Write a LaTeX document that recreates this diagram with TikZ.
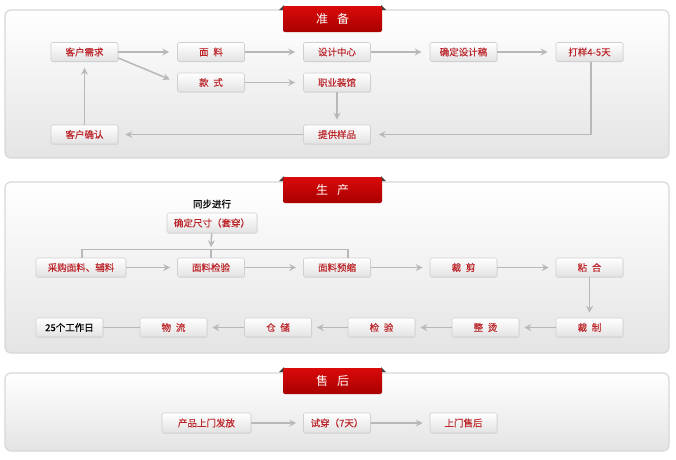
\documentclass[tikz,border=0pt]{standalone}
\usepackage{fontspec}
\setmainfont{Noto Sans CJK SC}
\newfontfamily\boxfont[FakeBold=0.35]{Noto Sans CJK SC}
\usetikzlibrary{arrows.meta,shadows,calc}
\definecolor{nodetxt}{HTML}{BC262B}
\definecolor{linegray}{HTML}{B8B8B8}
\definecolor{panelborder}{HTML}{D8D8D8}
\definecolor{panelbottom}{HTML}{E4E4E4}
\definecolor{boxbottom}{HTML}{E2E2E2}
\definecolor{boxborder}{HTML}{D0D0D0}
\definecolor{tabtop}{HTML}{DA0A0A}
\definecolor{tabbottom}{HTML}{A80000}
\newcommand{\chgap}{\hspace{0.5em}}
\tikzset{
  panel/.style={rounded corners=6pt, draw=panelborder, line width=1.2pt, top color=white, bottom color=panelbottom},
  tab/.style={rounded corners=2pt, top color=tabtop, bottom color=tabbottom, text=white, font=\fontsize{12}{14}\selectfont, minimum width=99pt, minimum height=26pt, inner sep=0pt},
  fold/.style={fill=black!75, draw=none},
  box/.style={rounded corners=1.5pt, draw=boxborder, line width=0.6pt, top color=white, bottom color=boxbottom, text=nodetxt, font=\boxfont\fontsize{9.5}{11}\selectfont, minimum width=67pt, minimum height=19pt, inner sep=0pt, drop shadow={opacity=0.12, shadow xshift=0.6pt, shadow yshift=-0.8pt}},
  wide/.style={minimum width=90pt},
  plainbox/.style={box, text=black},
  arr/.style={draw=linegray, line width=1.5pt, -{Stealth[length=7pt,width=7pt,inset=2.5pt]}, shorten >=6pt},
  ln/.style={draw=linegray, line width=1.5pt},
  label/.style={font=\boxfont\fontsize{9.5}{11}\selectfont, text=black, inner sep=0pt}
}
\begin{document}
\begin{tikzpicture}[x=1pt,y=-1pt]
\useasboundingbox (0,0) rectangle (676,459);
\fill[white] (0,0) rectangle (676,459);

% panels
\path[panel] (5,10) rectangle (669,158);
\path[panel] (5,182) rectangle (669,353);
\path[panel] (5,373) rectangle (669,451);

% tabs
\foreach \ty in {6,177,368}{
  \fill[fold] (279,\ty+4) -- (284,\ty-1) -- (284,\ty+4) -- cycle;
  \fill[fold] (386,\ty+4) -- (381,\ty-1) -- (381,\ty+4) -- cycle;
}
\node[tab] (t1) at (332.5,19) {准\hspace{0.75em}备};
\node[tab] (t2) at (332.5,190) {生\hspace{0.75em}产};
\node[tab] (t3) at (332.5,381) {售\hspace{0.75em}后};

% panel 1
\node[box] (n1) at (84.5,52) {客户需求};
\node[box] (n2) at (211,52) {面\chgap 料};
\node[box] (n3) at (337,52) {设计中心};
\node[box] (n4) at (463.5,52) {确定设计稿};
\node[box] (n5) at (589.5,52) {打样4-5天};
\node[box] (n6) at (211,82.5) {款\chgap 式};
\node[box] (n7) at (337,82.5) {职业装馆};
\node[box] (n8) at (84.5,134.5) {客户确认};
\node[box] (n9) at (337,134.5) {提供样品};

\draw[arr, shorten >=8pt] (n1) -- (n2);
\draw[arr, shorten >=8pt] (n2) -- (n3);
\draw[arr, shorten >=8pt] (n3) -- (n4);
\draw[arr, shorten >=8pt] (n4) -- (n5);
\draw[arr, shorten >=8pt] ([yshift=-6pt]n1.east) -- (n6.west);
\draw[arr, shorten >=8pt] (n6) -- (n7);
\draw[arr, shorten >=5pt] (n7) -- (n9);
\draw[arr, shorten >=8pt] ([xshift=1.5pt]n5.south) |- (n9.east);
\draw[arr, shorten >=7pt] (n9) -- (n8);
\draw[arr, shorten >=6pt] (n8) -- (n1);

% panel 2
\node[label] (sync) at (212,204) {同步进行};
\node[box, wide, minimum height=20pt] (m0) at (212,223) {确定尺寸（套穿）};

\node[box, wide] (p1) at (81,267.5) {采购面料、辅料};
\node[box] (p2) at (211,267.5) {面料检验};
\node[box] (p3) at (337,267.5) {面料预缩};
\node[box] (p4) at (463.5,267.5) {裁\chgap 剪};
\node[box] (p5) at (589.5,267.5) {粘\chgap 合};

\node[plainbox] (q1) at (69.5,327.5) {25个工作日};
\node[box] (q2) at (173.5,327.5) {物\chgap 流};
\node[box] (q3) at (278,327.5) {仓\chgap 储};
\node[box] (q4) at (381.5,327.5) {检\chgap 验};
\node[box] (q5) at (485.5,327.5) {整\chgap 烫};
\node[box] (q6) at (589.5,327.5) {裁\chgap 制};

\coordinate (bar) at ($(p2.north)+(0,-8)$);
\draw[arr, shorten >=2.5pt] (m0) -- (bar);
\draw[ln] ([xshift=1pt]p1.north) -- ++(0,-8) -| ([xshift=11pt]p3.north);
\draw[ln] (p2.north) -- (bar);

\draw[arr, shorten >=7pt] (p1) -- (p2);
\draw[arr, shorten >=7pt] (p2) -- (p3);
\draw[arr, shorten >=7pt] (p3) -- (p4);
\draw[arr, shorten >=7pt] (p4) -- (p5);
\draw[arr, shorten >=5pt] (p5) -- (q6);
\draw[arr, shorten >=5pt] (q6) -- (q5);
\draw[arr, shorten >=5pt] (q5) -- (q4);
\draw[arr, shorten >=5pt] (q4) -- (q3);
\draw[arr, shorten >=5pt] (q3) -- (q2);
\draw[ln] (q2) -- (q1);

% panel 3
\node[box, minimum width=89pt, minimum height=20pt] (r1) at (206.5,423) {产品上门发放};
\node[box, minimum height=20pt] (r2) at (337,423) {试穿（7天）};
\node[box, minimum height=20pt] (r3) at (463.5,423) {上门售后};
\draw[arr, shorten >=7pt] (r1) -- (r2);
\draw[arr, shorten >=7pt] (r2) -- (r3);
\end{tikzpicture}
\end{document}
